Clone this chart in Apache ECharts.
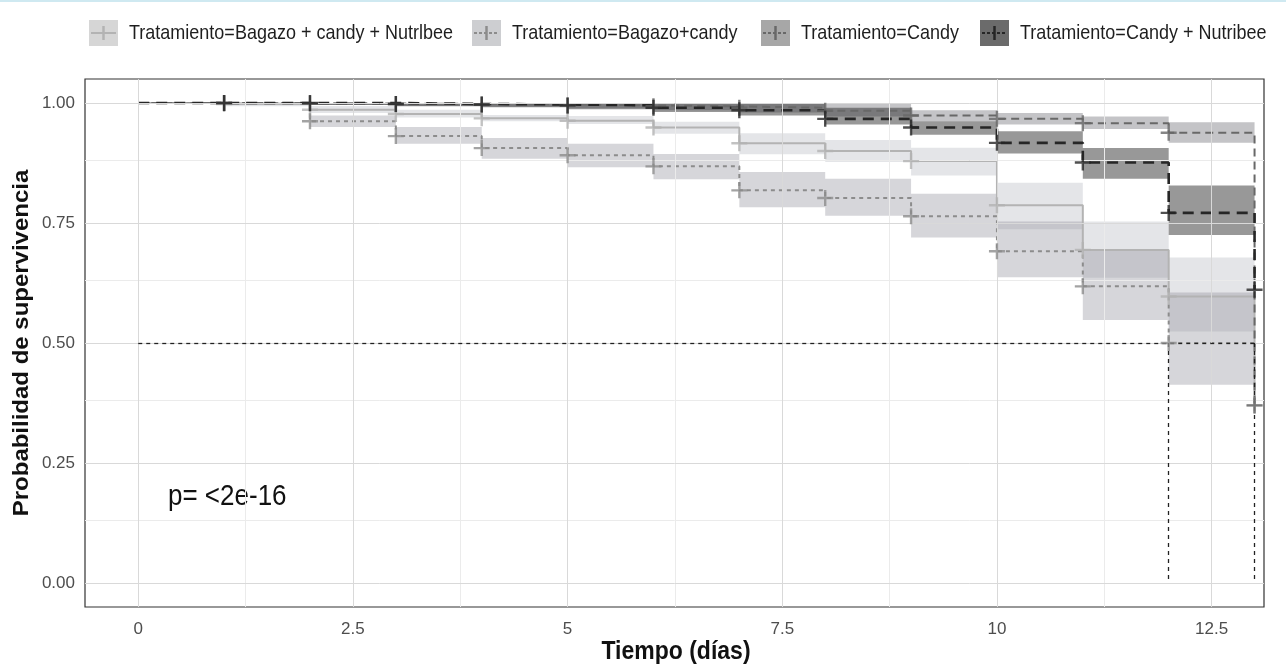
<!DOCTYPE html>
<html><head><meta charset="utf-8">
<script src="https://cdn.jsdelivr.net/npm/echarts@6/dist/echarts.min.js"></script>
<style>html,body{margin:0;padding:0;background:#fff}#c{width:1286px;height:666px}</style>
</head><body><div id="c"></div>
<script>
// ---------- data ----------
const groupNames = ['Tratamiento=Bagazo + candy + Nutrlbee', 'Tratamiento=Bagazo+candy', 'Tratamiento=Candy', 'Tratamiento=Candy + Nutribee'];
const times = [0, 1, 2, 3, 4, 5, 6, 7, 8, 9, 10, 11, 12];
const endTime = 13;

const surv1 = [1.0, 0.998, 0.986, 0.977, 0.968, 0.963, 0.949, 0.916, 0.900, 0.879, 0.787, 0.694, 0.597];
const low1  = [1.0, 0.993, 0.979, 0.970, 0.962, 0.956, 0.936, 0.893, 0.877, 0.849, 0.737, 0.636, 0.524];
const up1   = [1.0, 1.0,   0.994, 0.986, 0.975, 0.973, 0.961, 0.937, 0.923, 0.907, 0.834, 0.753, 0.678];
const end1  = 0.37;

const surv2 = [1.0, 1.0, 0.962, 0.931, 0.906, 0.891, 0.868, 0.818, 0.802, 0.764, 0.691, 0.618, 0.5];
const low2  = [1.0, 1.0, 0.950, 0.915, 0.884, 0.866, 0.841, 0.783, 0.765, 0.720, 0.637, 0.548, 0.413];
const up2   = [1.0, 1.0, 0.974, 0.950, 0.927, 0.915, 0.894, 0.856, 0.842, 0.811, 0.753, 0.694, 0.605];
const end2  = 0.5;

const surv3 = [1.0, 1.0, 0.999, 0.998, 0.997, 0.995, 0.993, 0.990, 0.984, 0.974, 0.967, 0.958, 0.938];
const low3  = [1.0, 1.0, 0.996, 0.994, 0.992, 0.989, 0.985, 0.980, 0.972, 0.962, 0.955, 0.946, 0.917];
const up3   = [1.0, 1.0, 1.0,   1.0,   1.0,   1.0,   1.0,   1.0,   0.998, 0.985, 0.979, 0.972, 0.960];
const end3  = 0.37;

const surv4 = [1.0, 1.0, 1.0, 0.998, 0.997, 0.995, 0.990, 0.985, 0.967, 0.949, 0.917, 0.876, 0.771];
const low4  = [1.0, 0.997, 0.996, 0.993, 0.991, 0.987, 0.981, 0.974, 0.955, 0.934, 0.895, 0.842, 0.725];
const up4   = [1.0, 1.0,   1.0,   1.0,   1.0,   1.0,   1.0,   0.998, 0.990, 0.962, 0.941, 0.906, 0.828];
const end4  = 0.611;

const xTicks = [0, 2.5, 5, 7.5, 10, 12.5];
const xMinor = [1.25, 3.75, 6.25, 8.75, 11.25];
const yTicks = [0, 0.25, 0.5, 0.75, 1];
const yMinor = [0.125, 0.375, 0.625, 0.875];
const medianY = 0.5;
const medianTimes = [12, 13];
const pText = 'p= <2e-16';
const xTitle = 'Tiempo (días)';
const yTitle = 'Probabilidad de supervivencia';

// ---------- styles ----------
const groups = [
  {surv: surv1, low: low1, up: up1, end: end1, color: '#b3b3b3', band: 'rgba(172,174,184,0.32)', dash: 'solid', w: 2, key: '#d6d6d6'},
  {surv: surv2, low: low2, up: up2, end: end2, color: '#8c8c8c', band: 'rgba(140,142,152,0.36)', dash: [4, 4], w: 2, key: '#cdced1'},
  {surv: surv3, low: low3, up: up3, end: end3, color: '#686868', band: 'rgba(100,100,108,0.38)', dash: [8, 5], w: 2, key: '#a7a7a7'},
  {surv: surv4, low: low4, up: up4, end: end4, color: '#262626', band: 'rgba(40,40,40,0.48)', dash: [11, 7], w: 2.6, key: '#6b6b6b'}
];
const crossPath = 'path://M8.5,0h3v20h-3z M0,8.5h20v3h-20z';
const FONT = 'Liberation Sans, Arial, sans-serif';

const chart = echarts.init(document.getElementById('c'), null, {renderer: 'canvas'});
const series = [];

// grid lines via markLine on a hidden series
series.push({
  type: 'line', data: [], silent: true, z: 0,
  markLine: {
    silent: true, symbol: 'none', animation: false, label: {show: false},
    data: [
      ...xMinor.map(v => ({xAxis: v, lineStyle: {color: '#ebebeb', width: 1, type: 'solid'}})),
      ...yMinor.map(v => ({yAxis: v, lineStyle: {color: '#ebebeb', width: 1, type: 'solid'}})),
      ...xTicks.map(v => ({xAxis: v, lineStyle: {color: '#d9d9d9', width: 1, type: 'solid'}})),
      ...yTicks.map(v => ({yAxis: v, lineStyle: {color: '#d9d9d9', width: 1, type: 'solid'}}))
    ]
  }
});

// confidence bands (step polygons)
groups.forEach((g) => {
  series.push({
    type: 'custom', silent: true, z: 1,
    data: [[0]],
    renderItem: function (params, api) {
      const upper = [], lower = [];
      times.forEach((t, i) => {
        upper.push(api.coord([t, g.up[i]]));
        upper.push(api.coord([t + 1, g.up[i]]));
        lower.push(api.coord([t, g.low[i]]));
        lower.push(api.coord([t + 1, g.low[i]]));
      });
      const pts = upper.concat(lower.reverse());
      return {type: 'polygon', shape: {points: pts}, style: {fill: g.band, stroke: null}};
    }
  });
});

// survival step lines
groups.forEach((g) => {
  const d = times.map((t, i) => [t, g.surv[i]]);
  d.push([endTime, g.end]);
  series.push({
    type: 'line', step: 'end', data: d, showSymbol: false, silent: true, z: 3,
    lineStyle: {color: g.color, width: g.w, type: g.dash}
  });
});

// median lines
series.push({
  type: 'line', data: [], silent: true, z: 4,
  markLine: {
    silent: true, symbol: 'none', animation: false, label: {show: false},
    lineStyle: {color: '#222', width: 1.3, type: [4, 4]},
    data: [
      [{coord: [0, medianY]}, {coord: [endTime, medianY]}],
      ...medianTimes.map(t => [{coord: [t, medianY]}, {coord: [t, 0]}])
    ]
  }
});

// censor marks
groups.forEach((g) => {
  const d = times.slice(1).map((t, i) => [t, g.surv[i + 1]]);
  if (g.end !== g.surv[g.surv.length - 1]) d.push([endTime, g.end]);
  series.push({
    type: 'scatter', data: d, symbol: crossPath, symbolSize: 16, silent: true, z: 5,
    itemStyle: {color: g.color}
  });
});

// legend as graphic
const keyX = [89, 472, 761, 980];
const legend = [];
groups.forEach((g, i) => {
  const kx = keyX[i], ky = 20, kw = 29, kh = 26;
  legend.push({type: 'rect', shape: {x: kx, y: ky, width: kw, height: kh}, style: {fill: g.key}});
  legend.push({type: 'line', shape: {x1: kx + 2, y1: ky + kh / 2, x2: kx + kw - 2, y2: ky + kh / 2},
    style: {stroke: g.color, lineWidth: 2, lineDash: g.dash === 'solid' ? null : [3, 2]}});
  legend.push({type: 'line', shape: {x1: kx + kw / 2, y1: ky + kh / 2 - 7, x2: kx + kw / 2, y2: ky + kh / 2 + 7},
    style: {stroke: g.color, lineWidth: 2.5}});
  legend.push({type: 'text', x: kx + kw + 11, y: ky + kh / 2, scaleY: 1.12,
    style: {text: groupNames[i], font: '18px ' + FONT, fill: '#1e1e1e', textVerticalAlign: 'middle'}});
});

chart.setOption({
  animation: false,
  backgroundColor: '#fff',
  grid: {left: 85, right: 22, top: 79, bottom: 59, containLabel: false, outerBoundsMode: 'none',
    show: true, borderColor: '#333', borderWidth: 1.2, backgroundColor: 'transparent'},
  xAxis: {
    type: 'value', min: -0.62, max: 13.11,
    axisLine: {show: false},
    splitLine: {show: false},
    axisTick: {show: true, length: 5, lineStyle: {color: '#333'}, customValues: xTicks},
    axisLabel: {fontFamily: FONT, fontSize: 17, color: '#4d4d4d', margin: 14, customValues: xTicks, formatter: v => String(v)}
  },
  yAxis: {
    type: 'value', min: -0.05, max: 1.05,
    axisLine: {show: false},
    splitLine: {show: false},
    axisTick: {show: true, length: 5, lineStyle: {color: '#333'}, customValues: yTicks},
    axisLabel: {fontFamily: FONT, fontSize: 17, color: '#4d4d4d', margin: 10, customValues: yTicks, formatter: v => v.toFixed(2)}
  },
  graphic: [
    {type: 'rect', shape: {x: 0, y: 0, width: 1286, height: 2}, style: {fill: '#cfe9f1'}},
    ...legend,
    {type: 'text', x: 168, y: 497, scaleY: 1.1, style: {text: pText, font: '26px ' + FONT, fill: '#111', textVerticalAlign: 'middle'}},
    {type: 'text', x: 676, y: 652, scaleY: 1.1, style: {text: xTitle, font: 'bold 23px ' + FONT, fill: '#111', textAlign: 'center', textVerticalAlign: 'middle'}},
    {type: 'text', x: 22, y: 343, rotation: Math.PI / 2, scaleX: 1.09, style: {text: yTitle, font: 'bold 22px ' + FONT, fill: '#111', textAlign: 'center', textVerticalAlign: 'middle'}}
  ],
  series: series
});
</script></body></html>
